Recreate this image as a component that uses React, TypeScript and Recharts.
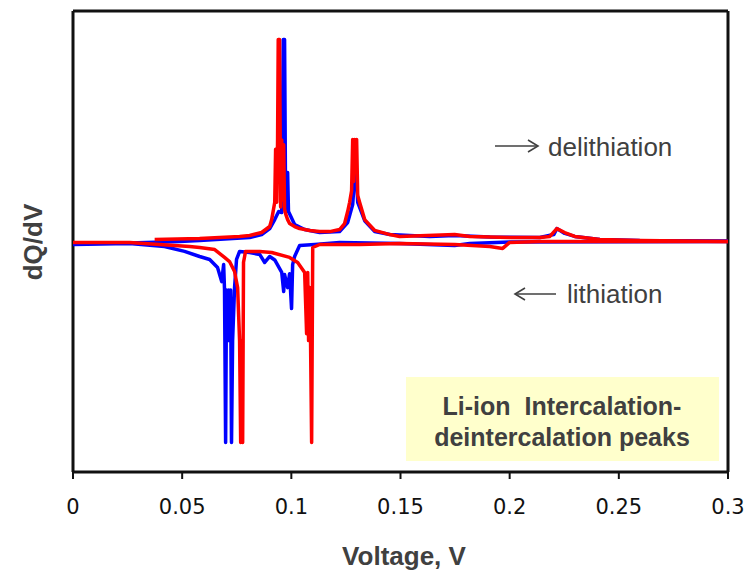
import { Line, LineChart, ReferenceLine, XAxis, YAxis } from "recharts";

type Pt = { v: number; d: number };

// voltage ticks
const xTicks = [0, 0.05, 0.1, 0.15, 0.2, 0.25, 0.3];

// [voltage V, dQ/dV (arb.)]
const blueDelith: [number, number][] = [
  [0, -0.009], [0.0259, -0.006], [0.0488, 0.0], [0.058, 0.004], [0.0809, 0.017],
  [0.0864, 0.03], [0.0901, 0.056], [0.0924, 0.095], [0.0942, 0.13], [0.0956, 0.126],
  [0.0963, 0.876], [0.0969, 0.876], [0.0974, 0.126], [0.0983, 0.299], [0.0987, 0.13],
  [0.1015, 0.074], [0.1061, 0.052], [0.113, 0.039], [0.1221, 0.043], [0.1258, 0.082],
  [0.1281, 0.16], [0.1295, 0.35], [0.1304, 0.17], [0.1336, 0.09], [0.1382, 0.043],
  [0.1451, 0.03], [0.1634, 0.022], [0.1748, 0.026], [0.1909, 0.02], [0.2138, 0.017],
  [0.2202, 0.03], [0.2216, 0.056], [0.2252, 0.035], [0.2298, 0.022], [0.2413, 0.009],
  [0.2596, 0.004], [0.3, 0.002],
];

const blueLith: [number, number][] = [
  [0, -0.013], [0.0259, -0.009], [0.0419, -0.022], [0.0511, -0.043], [0.058, -0.065],
  [0.0626, -0.078], [0.0662, -0.113], [0.0681, -0.174], [0.069, -0.1], [0.0694, -0.21],
  [0.0699, -0.872], [0.0703, -0.21], [0.0708, -0.43], [0.0713, -0.21], [0.0717, -0.43],
  [0.0722, -0.21], [0.0726, -0.872], [0.0731, -0.43], [0.074, -0.2], [0.0749, -0.078],
  [0.0763, -0.043], [0.0809, -0.048], [0.0855, -0.056], [0.0878, -0.091], [0.0901, -0.065],
  [0.0924, -0.08], [0.0956, -0.134], [0.0965, -0.217], [0.0969, -0.143], [0.0983, -0.2],
  [0.0992, -0.14], [0.1001, -0.291], [0.1006, -0.1], [0.1015, -0.065], [0.1038, -0.017],
  [0.1107, -0.013], [0.1221, -0.004], [0.1496, -0.009], [0.1748, -0.017], [0.1817, -0.009],
  [0.2, -0.002], [0.3, 0.0],
];

const redDelith: [number, number][] = [
  [0.0374, 0.009], [0.058, 0.013], [0.0763, 0.022], [0.0809, 0.026], [0.0864, 0.039],
  [0.0901, 0.065], [0.091, 0.095], [0.0924, 0.17], [0.0928, 0.4], [0.0933, 0.17],
  [0.0937, 0.44], [0.094, 0.876], [0.0946, 0.876], [0.0951, 0.15], [0.0956, 0.44],
  [0.096, 0.18], [0.0965, 0.42], [0.0969, 0.14], [0.0974, 0.12], [0.0983, 0.095],
  [0.0992, 0.078], [0.1015, 0.065], [0.1038, 0.056], [0.1084, 0.048], [0.113, 0.043],
  [0.1176, 0.043], [0.1221, 0.052], [0.1244, 0.078], [0.1258, 0.13], [0.1267, 0.17],
  [0.1276, 0.22], [0.1281, 0.443], [0.1285, 0.26], [0.129, 0.443], [0.1295, 0.3],
  [0.1299, 0.443], [0.1304, 0.2], [0.1313, 0.169], [0.1336, 0.095], [0.1382, 0.048],
  [0.1451, 0.03], [0.1496, 0.022], [0.1748, 0.03], [0.1817, 0.022], [0.2, 0.017],
  [0.2138, 0.017], [0.2184, 0.022], [0.2216, 0.056], [0.2252, 0.039], [0.2298, 0.022],
  [0.2413, 0.009], [0.2596, 0.004], [0.3, 0.0],
];

const redLith: [number, number][] = [
  [0, -0.004], [0.0259, -0.004], [0.0534, -0.022], [0.058, -0.026], [0.0649, -0.035],
  [0.0694, -0.069], [0.0717, -0.087], [0.074, -0.13], [0.0754, -0.2], [0.0763, -0.43],
  [0.0768, -0.872], [0.0772, -0.43], [0.0777, -0.872], [0.0781, -0.09], [0.0786, -0.065],
  [0.079, -0.043], [0.0855, -0.043], [0.091, -0.048], [0.0992, -0.069], [0.1029, -0.091],
  [0.1061, -0.134], [0.107, -0.4], [0.1075, -0.134], [0.1079, -0.43], [0.1084, -0.2],
  [0.1088, -0.43], [0.1093, -0.872], [0.1098, -0.026], [0.113, -0.013], [0.1313, -0.013],
  [0.1496, -0.009], [0.1748, -0.013], [0.1909, -0.022], [0.1968, -0.03], [0.2, -0.004],
  [0.2138, 0.0], [0.3, 0.0],
];

const toPts = (rows: [number, number][]): Pt[] => rows.map(([v, d]) => ({ v, d }));

const AXIS = "#111";
const TEXT = "#404040";
const ARIAL = "'Liberation Sans', Arial, sans-serif";

export default function App() {
  const series = [
    { key: "bd", data: toPts(blueDelith), color: "#0000ff" },
    { key: "bl", data: toPts(blueLith), color: "#0000ff" },
    { key: "rd", data: toPts(redDelith), color: "#ff0000" },
    { key: "rl", data: toPts(redLith), color: "#ff0000" },
  ];

  return (
    <div style={{ position: "absolute", left: 0, top: 0, width: 754, height: 574, background: "#fff" }}>
      <LineChart width={754} height={574} margin={{ top: 11, right: 26, left: 73, bottom: 72 }}>
        <XAxis
          dataKey="v"
          type="number"
          domain={[0, 0.3]}
          ticks={xTicks}
          interval={0}
          allowDataOverflow
          height={30}
          tickFormatter={(t: number) => String(t)}
          axisLine={{ stroke: AXIS, strokeWidth: 3 }}
          tickLine={{ stroke: AXIS, strokeWidth: 2 }}
          tickSize={7}
          tickMargin={20}
          tick={{ fill: "#111", fontSize: 21, fontFamily: "'DejaVu Sans', sans-serif" }}
        />
        <YAxis type="number" domain={[-1, 1]} hide allowDataOverflow />
        <ReferenceLine y={1} stroke={AXIS} strokeWidth={3} />
        <ReferenceLine x={0} stroke={AXIS} strokeWidth={3} />
        <ReferenceLine x={0.3} stroke={AXIS} strokeWidth={3} />
        {series.map((s) => (
          <Line
            key={s.key}
            data={s.data}
            dataKey="d"
            type="linear"
            stroke={s.color}
            strokeWidth={3.5}
            strokeLinejoin="round"
            dot={false}
            activeDot={false}
            isAnimationActive={false}
          />
        ))}
      </LineChart>

      <svg width={754} height={574} style={{ position: "absolute", left: 0, top: 0, pointerEvents: "none" }}>
        {/* delithiation / lithiation arrows */}
        <g stroke={TEXT} strokeWidth={1.6} fill="none">
          <line x1={495} y1={146} x2={537} y2={146} />
          <polyline points="528,140 538,146 528,152" />
          <line x1={516} y1={294} x2={556} y2={294} />
          <polyline points="525,288 515,294 525,300" />
        </g>
        <text x={548} y={156} fontFamily={ARIAL} fontSize={26} fill={TEXT}>delithiation</text>
        <text x={567} y={303} fontFamily={ARIAL} fontSize={26} fill={TEXT}>lithiation</text>

        <rect x={406} y={377} width={313} height={84} fill="#ffffcc" />
        <text x={562} y={415} textAnchor="middle" fontFamily={ARIAL} fontWeight="bold" fontSize={25} fill={TEXT}>
          Li-ion{"\u00a0\u00a0"}Intercalation-
        </text>
        <text x={562} y={446} textAnchor="middle" fontFamily={ARIAL} fontWeight="bold" fontSize={25} fill={TEXT}>
          deintercalation peaks
        </text>

        <text x={404} y={565} textAnchor="middle" fontFamily={ARIAL} fontWeight="bold" fontSize={26} fill={TEXT}>
          Voltage, V
        </text>
        <text
          x={0}
          y={0}
          transform="translate(42 242) rotate(-90)"
          textAnchor="middle"
          fontFamily={ARIAL}
          fontWeight="bold"
          fontSize={26}
          fill={TEXT}
        >
          dQ/dV
        </text>
      </svg>
    </div>
  );
}
